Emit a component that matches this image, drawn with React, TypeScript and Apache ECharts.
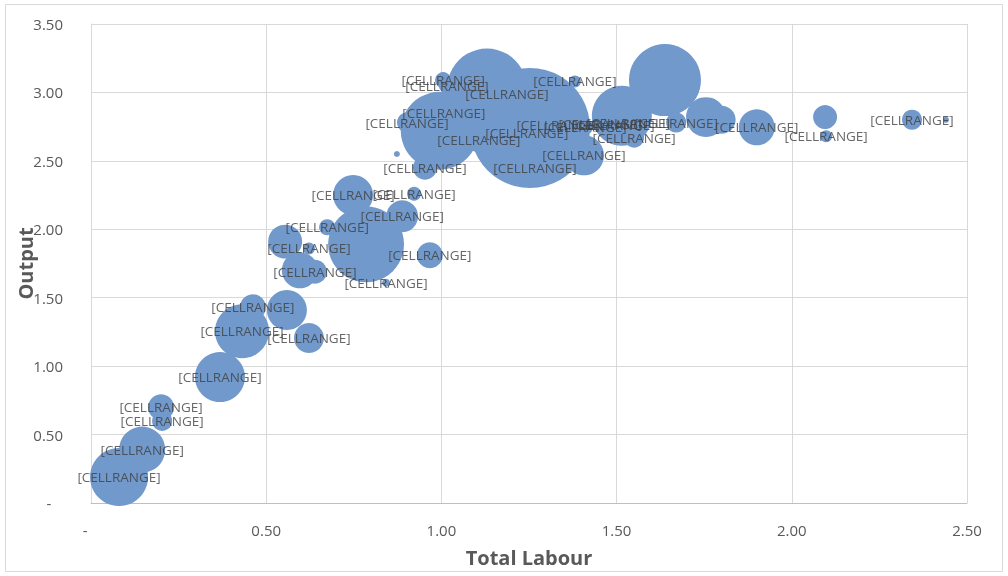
import React, { useEffect, useRef } from "react";
import * as echarts from "echarts";

// Points that carry a data label
const labourLabelled = [0.08, 0.146, 0.2, 0.203, 0.368, 0.462, 0.431, 0.622, 0.748, 0.922, 0.888, 0.674, 0.622, 0.967, 0.639, 0.842, 1.005, 1.016, 1.187, 1.381, 1.007, 0.902, 1.107, 1.244, 1.333, 1.407, 1.267, 1.55, 1.41, 1.453, 1.49, 1.533, 1.67, 1.9, 2.098, 2.343, 0.953];
const outputLabelled = [0.19, 0.39, 0.7, 0.6, 0.92, 1.43, 1.255, 1.205, 2.25, 2.26, 2.095, 2.015, 1.86, 1.81, 1.69, 1.61, 3.09, 3.05, 2.99, 3.08, 2.85, 2.78, 2.65, 2.7, 2.76, 2.54, 2.445, 2.67, 2.75, 2.77, 2.765, 2.78, 2.78, 2.745, 2.68, 2.8, 2.45];
const sizeLabelled = [23.4, 14.7, 4.7, 2.8, 17.4, 4.7, 20.3, 6.25, 11.1, 1.36, 7.1, 1.8, 1.0, 4.7, 4.0, 0.44, 1.8, 1.8, 2.8, 1.0, 2.8, 2.8, 4, 4, 2.8, 11.1, 4, 2.8, 1.8, 1.8, 1.8, 1.8, 2.8, 9, 1, 2.8, 4];

// Points without a visible label
const labourPlain = [0.559, 0.785, 0.554, 0.596, 0.995, 1.13, 1.253, 1.515, 1.638, 1.755, 1.8, 2.095, 2.44, 0.873];
const outputPlain = [1.41, 1.89, 1.91, 1.7, 2.72, 3.03, 2.74, 2.83, 3.09, 2.82, 2.8, 2.82, 2.8, 2.55];
const sizePlain = [11.1, 40, 8, 9, 42, 44, 100, 25, 36, 11, 5.4, 4, 0.25, 0.25];

const pointLabel = "[CELLRANGE]";
const xAxisTitle = "Total Labour";
const yAxisTitle = "Output";

const FONT = "'Open Sans', 'Noto Sans', sans-serif";
const BUBBLE = "#7199cb";

export default function App() {
  const ref = useRef<HTMLDivElement>(null);
  useEffect(() => {
    if (!ref.current) return;
    const chart = echarts.init(ref.current, undefined, { renderer: "svg" });
    const labelled = labourLabelled.map((x, i) => [x, outputLabelled[i], sizeLabelled[i]]);
    const plain = labourPlain.map((x, i) => [x, outputPlain[i], sizePlain[i]]);
    const all = plain.concat(labelled);
    const fmt = (v: number) => (v === 0 ? "-   " : v.toFixed(2));
    chart.setOption({
      animation: false,
      textStyle: { fontFamily: FONT },
      grid: { left: 91, right: 41, top: 24, bottom: 73, containLabel: false, outerBoundsMode: "none" },
      graphic: [
        {
          type: "rect",
          shape: { x: 5.5, y: 4.5, width: 997, height: 567 },
          style: { fill: "none", stroke: "#d9d9d9", lineWidth: 1 },
          silent: true,
        },
      ],
      xAxis: {
        type: "value",
        min: 0,
        max: 2.5,
        interval: 0.5,
        name: xAxisTitle,
        nameLocation: "middle",
        nameGap: 44,
        nameTextStyle: { fontFamily: FONT, fontSize: 20, fontWeight: "bold", color: "#595959" },
        axisLine: { show: true, lineStyle: { color: "#bfbfbf" } },
        axisTick: { show: false },
        axisLabel: { formatter: fmt, color: "#595959", fontSize: 15, margin: 19, fontFamily: FONT },
        splitLine: { show: true, lineStyle: { color: "#d9d9d9" } },
      },
      yAxis: {
        type: "value",
        min: 0,
        max: 3.5,
        interval: 0.5,
        name: yAxisTitle,
        nameLocation: "middle",
        nameGap: 56,
        nameMoveOverlap: false,
        nameTextStyle: { fontFamily: FONT, fontSize: 20, fontWeight: "bold", color: "#595959" },
        axisLine: { show: true, lineStyle: { color: "#d9d9d9" } },
        axisTick: { show: false },
        axisLabel: { formatter: fmt, color: "#595959", fontSize: 15, margin: 28, fontFamily: FONT },
        splitLine: { show: true, lineStyle: { color: "#d9d9d9" } },
      },
      series: [
        {
          type: "scatter",
          data: all,
          symbolSize: (v: number[]) => 12 * Math.sqrt(v[2]),
          itemStyle: { color: BUBBLE, opacity: 1 },
          label: { show: false },
          z: 2,
        },
        {
          type: "scatter",
          data: labelled,
          symbolSize: 1,
          itemStyle: { color: "rgba(0,0,0,0)" },
          label: {
            show: true,
            position: "inside",
            formatter: () => pointLabel,
            color: "#404040",
            fontSize: 13.5,
            fontFamily: FONT,
          },
          z: 3,
        },
      ],
    });
    return () => chart.dispose();
  }, []);
  return <div ref={ref} style={{ position: "fixed", left: 0, top: 0, width: 1008, height: 576 }} />;
}
